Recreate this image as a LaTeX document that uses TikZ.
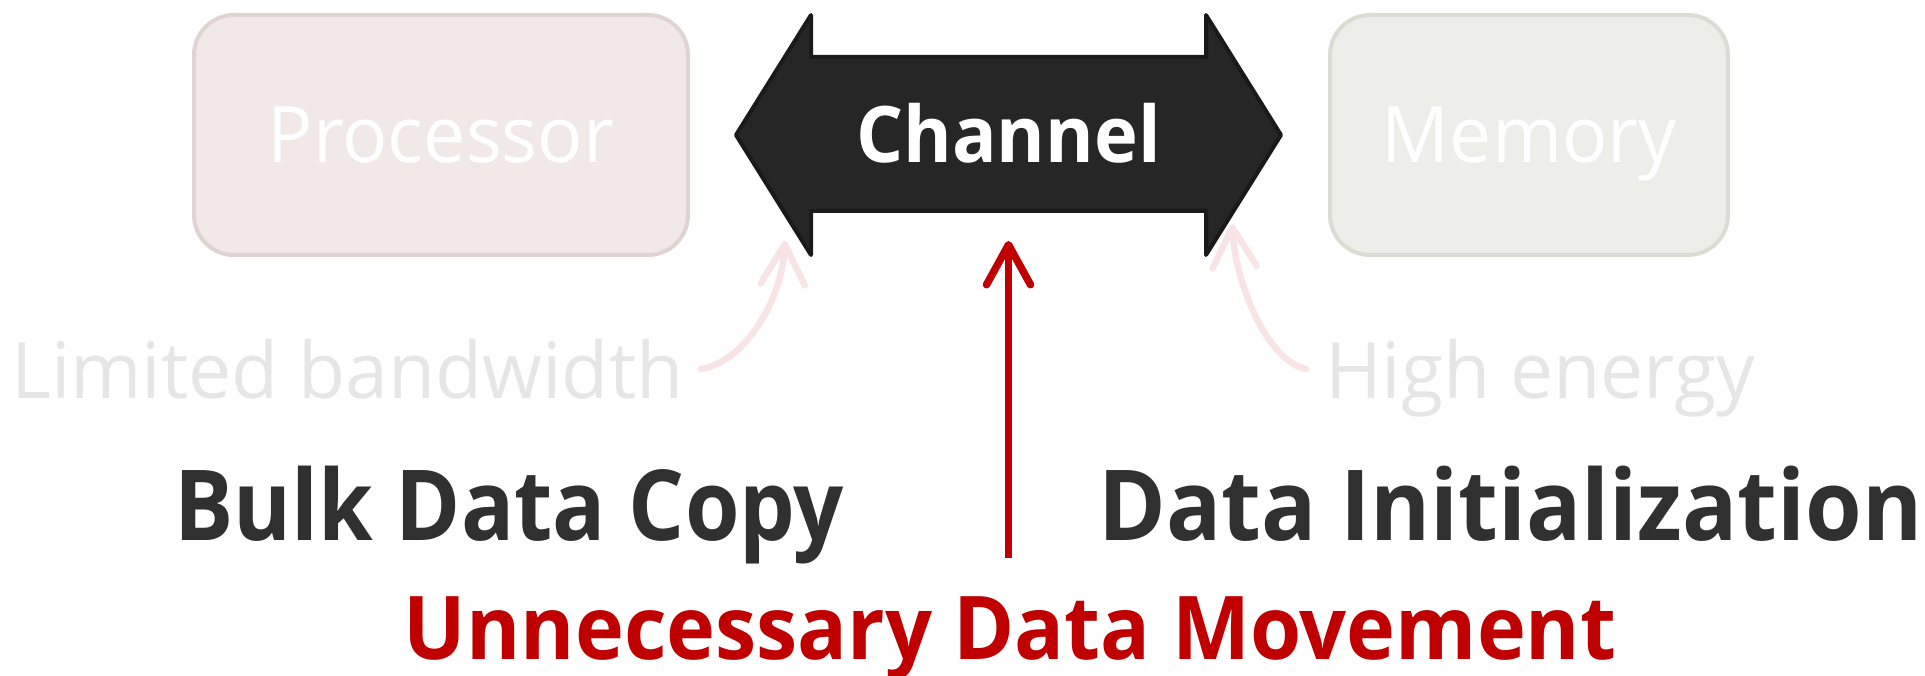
\documentclass[tikz,border=0pt]{standalone}
\usepackage{fontspec}
\setmainfont{Open Sans}
\newfontfamily\unitfont{Open Sans}[FakeStretch=0.965]
\newfontfamily\notefont{Open Sans}[FakeStretch=0.985]
\newfontfamily\chanfont{Open Sans}[FakeStretch=0.95]
\newfontfamily\labelfont{Open Sans}[FakeStretch=0.90]
\newfontfamily\initfont{Open Sans}[FakeStretch=0.935]
\newfontfamily\alertfont{Open Sans}[FakeStretch=0.94]
\usetikzlibrary{arrows.meta}

\definecolor{procfill}{HTML}{F1E9E8}
\definecolor{procedge}{HTML}{E0D4D3}
\definecolor{memfill}{HTML}{EDEDE9}
\definecolor{memedge}{HTML}{DCDCD5}
\definecolor{chanfill}{HTML}{262626}
\definecolor{chanedge}{HTML}{1A1A1A}
\definecolor{notegrey}{HTML}{E6E6E6}
\definecolor{pinkline}{HTML}{F8E4E4}
\definecolor{darktext}{HTML}{303030}
\definecolor{alertred}{HTML}{C00000}

\begin{document}
\begin{tikzpicture}[x=1pt,y=-1pt,
  unitbox/.style={rounded corners=40pt, line width=4pt, inner sep=0pt,
    minimum height=240pt, text=white,
    font=\unitfont\fontsize{78}{90}\selectfont, text height=56pt, text depth=0pt},
  notetext/.style={inner sep=0pt, text=notegrey, font=\notefont\fontsize{78}{90}\selectfont},
  labeltext/.style={inner sep=0pt, text=darktext, font=\labelfont\bfseries\fontsize{98}{110}\selectfont},
  alerttext/.style={inner sep=0pt, text=alertred, font=\alertfont\bfseries\fontsize{88}{100}\selectfont},
  pinkarrow/.style={draw=pinkline, line width=6.5pt, line cap=round,
    -{Straight Barb[length=40pt, width=44pt, line cap=round, line join=round]}},
  redarrow/.style={draw=alertred, line width=7.5pt,
    -{Straight Barb[length=40pt, width=44pt, line cap=round, line join=round]}},
]
\useasboundingbox (0,0) rectangle (1925,676);

% end units
\node[unitbox, fill=procfill, draw=procedge, minimum width=494pt] (proc) at (441,135) {Processor};
\node[unitbox, fill=memfill, draw=memedge, minimum width=398pt] (mem) at (1529,135) {Memory};

% the channel, a double-headed block arrow
\draw[fill=chanfill, draw=chanedge, line width=4pt, line join=round]
  (736,135) -- (811,15) -- (811,57) -- (1206,57) -- (1206,15) -- (1281,135)
  -- (1206,255) -- (1206,211) -- (811,211) -- (811,255) -- cycle;
\node[inner sep=0pt, text=white, font=\chanfont\bfseries\fontsize{78}{90}\selectfont,
  text height=56pt, text depth=0pt] (chan) at (1008.5,135) {Channel};

% side notes
\node[notetext, anchor=base west] (lb) at (11,398) {Limited bandwidth};
\node[notetext, anchor=base west] (he) at (1325,398) {High energy};
\coordinate (lbstart) at (701,369);
\coordinate (lbtip) at (785,241);
\coordinate (hestart) at (1306,369);
\coordinate (hetip) at (1232,224);
\draw[pinkarrow] (lbstart) .. controls (745,362) and (782,300) .. (lbtip);
\draw[pinkarrow] (hestart) .. controls (1270,362) and (1236,290) .. (hetip);

% workloads
\node[labeltext, anchor=base west] (bulk) at (174,540) {Bulk Data Copy};
\node[labeltext, anchor=base west, font=\initfont\bfseries\fontsize{98}{110}\selectfont] (init) at (1098,540) {Data Initialization};
\node[alerttext, anchor=base] (udm) at (1010,659) {Unnecessary Data Movement};

\coordinate (redfoot) at (1008.5,558);
\coordinate (redtip) at (1008.5,241);
\draw[redarrow] (redfoot) -- (redtip);
\end{tikzpicture}
\end{document}
